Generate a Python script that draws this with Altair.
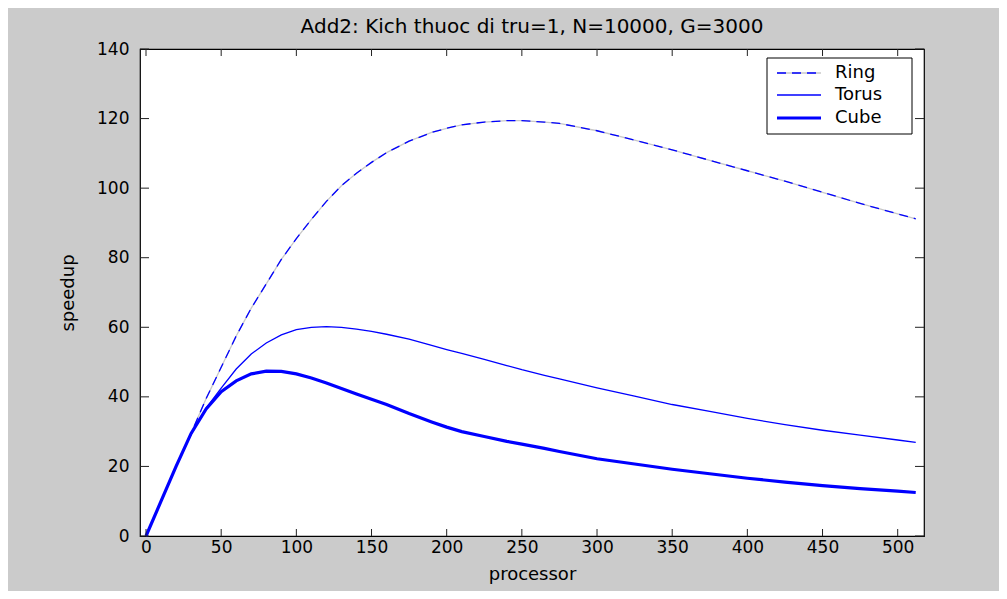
import altair as alt
import pandas as pd

# ---- data ----
processors = [0, 10, 20, 30, 40, 50, 60, 70, 80, 90, 100, 110, 120, 130, 140, 150,
              160, 175, 190, 200, 210, 225, 240, 250, 265, 275, 300, 325, 350, 375,
              400, 425, 450, 475, 500, 512]
ring = [0, 10, 20, 29.5, 39.5, 48.5, 57.5, 65.5, 72.5, 79.5, 85.5, 91, 96.2, 100.7,
        104.3, 107.4, 110.2, 113.5, 116, 117.2, 118.2, 119, 119.4, 119.4, 119, 118.6,
        116.5, 113.8, 111, 108, 105, 102, 98.8, 95.6, 92.6, 91.2]
torus = [0, 10, 20, 29.2, 36.8, 42.5, 48, 52.3, 55.5, 57.8, 59.3, 60, 60.2, 60, 59.5,
         58.8, 58, 56.6, 54.8, 53.6, 52.5, 50.8, 49, 47.8, 46.2, 45.2, 42.6, 40.2,
         37.8, 35.8, 33.8, 32, 30.4, 29, 27.6, 26.9]
cube = [0, 10, 20, 29.5, 36.5, 41.5, 44.6, 46.6, 47.4, 47.3, 46.6, 45.4, 44, 42.4,
        40.8, 39.3, 37.8, 35.2, 32.8, 31.3, 30, 28.6, 27.2, 26.4, 25.2, 24.3, 22.2,
        20.7, 19.2, 17.9, 16.6, 15.5, 14.5, 13.6, 12.9, 12.5]
series_names = ["Ring", "Torus", "Cube"]
x_ticks = [0, 50, 100, 150, 200, 250, 300, 350, 400, 450, 500]
y_ticks = [0, 20, 40, 60, 80, 100, 120, 140]
title_text = "Add2: Kich thuoc di tru=1, N=10000, G=3000"

series_vals = {"Ring": ring, "Torus": torus, "Cube": cube}
frames = {name: pd.DataFrame({"processor": processors, "speedup": vals})
          for name, vals in series_vals.items()}
xt = pd.DataFrame({"processor": x_ticks})
yt = pd.DataFrame({"speedup": y_ticks})
one = pd.DataFrame({"a": [0]})

W, H = 784, 487
BLUE = "#0000ff"
GAP = "#c8c8c8"
FONT = "DejaVu Sans"

xscale = alt.Scale(domain=[-4, 517.5], nice=False, zero=False)
yscale = alt.Scale(domain=[0, 140], nice=False)

xaxis = alt.Axis(values=x_ticks, title="processor", ticks=False, domain=False,
                 grid=False, labelFlush=False, labelOverlap=False, labelPadding=3,
                 titlePadding=10, labelFontSize=17, titleFontSize=18,
                 labelColor="black", titleColor="black", titleFontWeight="normal",
                 labelFont=FONT, titleFont=FONT)
yaxis = alt.Axis(values=y_ticks, title="speedup", ticks=False, domain=False,
                 grid=False, labelOverlap=False, labelPadding=11, titlePadding=19,
                 labelFontSize=17, titleFontSize=18, labelColor="black",
                 titleColor="black", titleFontWeight="normal", labelFont=FONT,
                 titleFont=FONT)
X = alt.X("processor:Q", scale=xscale, axis=xaxis)
Y = alt.Y("speedup:Q", scale=yscale, axis=yaxis)

styles = {"Ring": dict(strokeWidth=1.3, strokeDash=[9, 6]),
          "Torus": dict(strokeWidth=1.3),
          "Cube": dict(strokeWidth=3.2)}

layers = [alt.Chart(frames["Ring"]).mark_line(color=GAP, strokeWidth=1.3).encode(x=X, y=Y)]
for name in series_names:
    layers.append(alt.Chart(frames[name]).mark_line(color=BLUE, **styles[name]).encode(x=X, y=Y))

tick_color = "#222222"
layers += [
    alt.Chart(xt).mark_rule(color=tick_color, strokeWidth=1).encode(
        x=X, y=alt.value(H), y2=alt.value(H - 7)),
    alt.Chart(xt).mark_rule(color=tick_color, strokeWidth=1).encode(
        x=X, y=alt.value(0), y2=alt.value(7)),
    alt.Chart(yt).mark_rule(color=tick_color, strokeWidth=1).encode(
        y=Y, x=alt.value(0), x2=alt.value(9)),
    alt.Chart(yt).mark_rule(color=tick_color, strokeWidth=1).encode(
        y=Y, x=alt.value(W), x2=alt.value(W - 9)),
]

# ---- legend box ----
LX0, LX1, LY0, LY1 = 627, 772, 9, 85
layers.append(alt.Chart(one).mark_rect(fill="white", stroke="black", strokeWidth=1).encode(
    x=alt.value(LX0), x2=alt.value(LX1), y=alt.value(LY0), y2=alt.value(LY1)))
entry_y = [24, 46, 69]
for name, ey in zip(series_names, entry_y):
    st = styles[name]
    if name == "Ring":
        layers.append(alt.Chart(one).mark_rule(color=GAP, strokeWidth=st["strokeWidth"]).encode(
            x=alt.value(637), x2=alt.value(681), y=alt.value(ey)))
    layers.append(alt.Chart(one).mark_rule(color=BLUE, **st).encode(
        x=alt.value(637), x2=alt.value(681), y=alt.value(ey)))
    layers.append(alt.Chart(one).mark_text(
        text=name, align="left", baseline="middle", font=FONT, fontSize=18,
        color="black").encode(x=alt.value(695), y=alt.value(ey)))

chart = alt.layer(*layers).properties(
    width=W, height=H,
    title=alt.TitleParams(title_text, font=FONT, fontSize=20, fontWeight="normal",
                          color="black", anchor="middle", offset=3),
    autosize=alt.AutoSizeParams(type="none"),
    padding={"left": 132, "top": 41, "right": 75, "bottom": 55},
    background="#cbcbcb",
).configure_view(fill="white", stroke="black", strokeWidth=1.2)

chart.save("out.html", embed_options={"renderer": "svg", "actions": False})
